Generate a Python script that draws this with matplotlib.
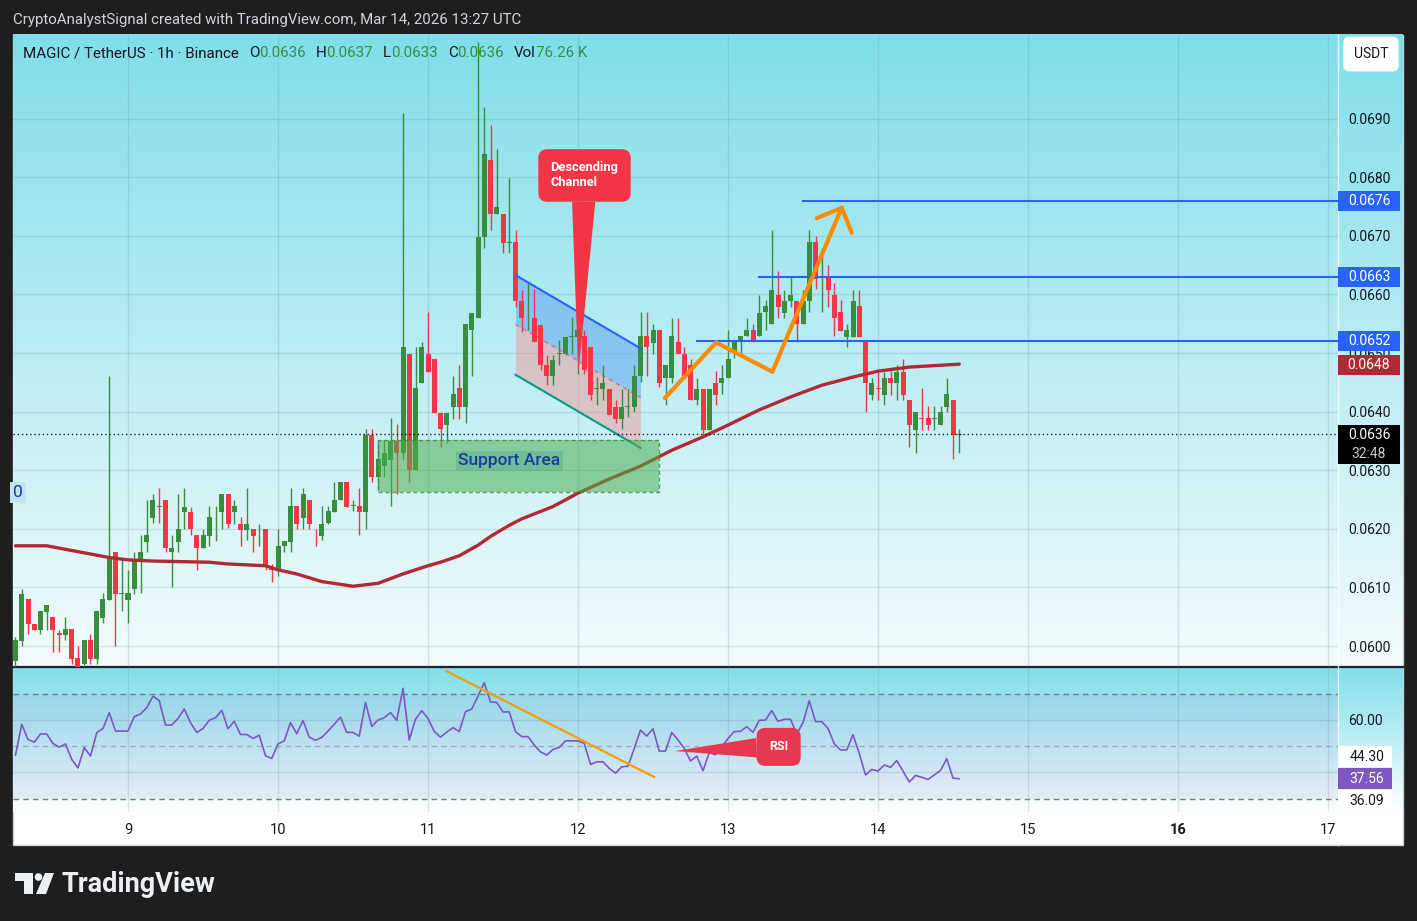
import numpy as np
import matplotlib.pyplot as plt
import matplotlib.colors as mcolors
import matplotlib.transforms as mtransforms
from matplotlib.patches import Rectangle, Polygon, Circle

plt.rcParams['font.family'] = ['Roboto', 'DejaVu Sans']

# ---------------- data (x = hours from Mar 9 00:00 UTC, 1h candles) ----------------
hours = list(range(-18, 134))

opens = [0.05975, 0.06009, 0.06080, 0.06038, 0.06027, 0.06058, 0.06050, 0.06022,
         0.06018, 0.06029, 0.05979, 0.05970, 0.06010, 0.05977, 0.06048, 0.06078,
         0.06161, 0.06089, 0.06078, 0.06098, 0.06148, 0.06178, 0.06219, 0.06239,
         0.06249, 0.06160, 0.06178, 0.06229, 0.06229, 0.06189, 0.06167, 0.06188,
         0.06230, 0.06229, 0.06259, 0.06229, 0.06209, 0.06198, 0.06200, 0.06199,
         0.06199, 0.06131, 0.06129, 0.06170, 0.06178, 0.06239, 0.06219, 0.06249,
         0.06200, 0.06188, 0.06210, 0.06229, 0.06249, 0.06280, 0.06239, 0.06239,
         0.06229, 0.06360, 0.06289, 0.06307, 0.06317, 0.06350, 0.06329, 0.06499,
         0.06300, 0.06449, 0.06499, 0.06489, 0.06398, 0.06377, 0.06408, 0.06440,
         0.06408, 0.06539, 0.06559, 0.06698, 0.06829, 0.06738, 0.06738, 0.06688,
         0.06690, 0.06588, 0.06559, 0.06559, 0.06548, 0.06480, 0.06460, 0.06499,
         0.06499, 0.06528, 0.06528, 0.06529, 0.06511, 0.06439, 0.06439, 0.06439,
         0.06408, 0.06387, 0.06408, 0.06408, 0.06460, 0.06529, 0.06517, 0.06539,
         0.06458, 0.06458, 0.06519, 0.06499, 0.06479, 0.06419, 0.06439, 0.06368,
         0.06449, 0.06449, 0.06458, 0.06500, 0.06519, 0.06529, 0.06539, 0.06529,
         0.06570, 0.06549, 0.06599, 0.06569, 0.06588, 0.06588, 0.06549, 0.06588,
         0.06690, 0.06629, 0.06629, 0.06599, 0.06570, 0.06528, 0.06528, 0.06580,
         0.06519, 0.06428, 0.06440, 0.06428, 0.06458, 0.06448, 0.06468, 0.06420,
         0.06368, 0.06389, 0.06389, 0.06388, 0.06377, 0.06408, 0.06420, 0.06360]

highs = [0.06015, 0.06098, 0.06080, 0.06038, 0.06060, 0.06070, 0.06050, 0.06028,
         0.06050, 0.06029, 0.06000, 0.06010, 0.06020, 0.06060, 0.06090, 0.06461,
         0.06161, 0.06149, 0.06130, 0.06160, 0.06189, 0.06249, 0.06259, 0.06269,
         0.06249, 0.06189, 0.06259, 0.06269, 0.06238, 0.06190, 0.06199, 0.06239,
         0.06239, 0.06259, 0.06259, 0.06249, 0.06220, 0.06269, 0.06200, 0.06209,
         0.06199, 0.06140, 0.06199, 0.06179, 0.06269, 0.06239, 0.06269, 0.06249,
         0.06200, 0.06239, 0.06239, 0.06280, 0.06280, 0.06280, 0.06249, 0.06269,
         0.06370, 0.06370, 0.06351, 0.06351, 0.06389, 0.06379, 0.06910, 0.06499,
         0.06511, 0.06519, 0.06570, 0.06489, 0.06398, 0.06398, 0.06460, 0.06479,
         0.06549, 0.06569, 0.07030, 0.06920, 0.06889, 0.06849, 0.06738, 0.06798,
         0.06710, 0.06607, 0.06619, 0.06610, 0.06548, 0.06496, 0.06496, 0.06522,
         0.06528, 0.06562, 0.06599, 0.06539, 0.06511, 0.06459, 0.06479, 0.06439,
         0.06420, 0.06439, 0.06439, 0.06480, 0.06570, 0.06570, 0.06550, 0.06539,
         0.06479, 0.06560, 0.06560, 0.06510, 0.06489, 0.06458, 0.06439, 0.06439,
         0.06469, 0.06479, 0.06539, 0.06519, 0.06529, 0.06560, 0.06549, 0.06599,
         0.06590, 0.06710, 0.06640, 0.06608, 0.06629, 0.06588, 0.06608, 0.06710,
         0.06700, 0.06679, 0.06650, 0.06619, 0.06590, 0.06549, 0.06608, 0.06608,
         0.06519, 0.06458, 0.06468, 0.06468, 0.06469, 0.06479, 0.06489, 0.06420,
         0.06400, 0.06440, 0.06410, 0.06410, 0.06410, 0.06458, 0.06420, 0.06370]

lows = [0.05965, 0.06000, 0.06020, 0.06027, 0.06020, 0.06028, 0.05990, 0.05990,
        0.06010, 0.05970, 0.05965, 0.05965, 0.05970, 0.05970, 0.06040, 0.06078,
        0.06000, 0.06060, 0.06040, 0.06088, 0.06091, 0.06161, 0.06210, 0.06210,
        0.06161, 0.06100, 0.06160, 0.06199, 0.06189, 0.06130, 0.06167, 0.06170,
        0.06180, 0.06200, 0.06201, 0.06209, 0.06170, 0.06181, 0.06161, 0.06170,
        0.06130, 0.06110, 0.06120, 0.06161, 0.06161, 0.06200, 0.06200, 0.06200,
        0.06170, 0.06181, 0.06209, 0.06229, 0.06249, 0.06238, 0.06230, 0.06189,
        0.06200, 0.06280, 0.06269, 0.06289, 0.06239, 0.06260, 0.06320, 0.06280,
        0.06300, 0.06449, 0.06468, 0.06398, 0.06340, 0.06346, 0.06388, 0.06388,
        0.06380, 0.06460, 0.06559, 0.06680, 0.06710, 0.06738, 0.06670, 0.06670,
        0.06579, 0.06536, 0.06539, 0.06519, 0.06471, 0.06445, 0.06445, 0.06480,
        0.06496, 0.06499, 0.06465, 0.06465, 0.06419, 0.06411, 0.06419, 0.06394,
        0.06380, 0.06371, 0.06390, 0.06400, 0.06450, 0.06460, 0.06499, 0.06442,
        0.06411, 0.06448, 0.06499, 0.06458, 0.06419, 0.06411, 0.06360, 0.06368,
        0.06411, 0.06430, 0.06458, 0.06491, 0.06500, 0.06529, 0.06519, 0.06529,
        0.06539, 0.06549, 0.06559, 0.06559, 0.06579, 0.06519, 0.06549, 0.06570,
        0.06609, 0.06570, 0.06579, 0.06529, 0.06538, 0.06511, 0.06528, 0.06528,
        0.06400, 0.06419, 0.06419, 0.06411, 0.06428, 0.06420, 0.06420, 0.06340,
        0.06330, 0.06368, 0.06368, 0.06368, 0.06377, 0.06400, 0.06320, 0.06330]

closes = [0.06010, 0.06089, 0.06037, 0.06027, 0.06059, 0.06070, 0.06027, 0.06019,
          0.06029, 0.05977, 0.05965, 0.06010, 0.05977, 0.06059, 0.06080, 0.06150,
          0.06088, 0.06090, 0.06090, 0.06149, 0.06161, 0.06189, 0.06249, 0.06238,
          0.06167, 0.06168, 0.06199, 0.06238, 0.06199, 0.06167, 0.06189, 0.06221,
          0.06231, 0.06259, 0.06208, 0.06239, 0.06198, 0.06209, 0.06188, 0.06200,
          0.06137, 0.06129, 0.06170, 0.06179, 0.06239, 0.06208, 0.06259, 0.06208,
          0.06199, 0.06209, 0.06230, 0.06249, 0.06280, 0.06238, 0.06240, 0.06229,
          0.06360, 0.06289, 0.06319, 0.06330, 0.06350, 0.06329, 0.06511, 0.06300,
          0.06440, 0.06510, 0.06468, 0.06398, 0.06370, 0.06398, 0.06430, 0.06408,
          0.06549, 0.06569, 0.06698, 0.06839, 0.06738, 0.06750, 0.06688, 0.06689,
          0.06588, 0.06559, 0.06560, 0.06519, 0.06480, 0.06460, 0.06488, 0.06500,
          0.06528, 0.06529, 0.06539, 0.06471, 0.06428, 0.06440, 0.06448, 0.06394,
          0.06387, 0.06408, 0.06409, 0.06460, 0.06529, 0.06510, 0.06539, 0.06449,
          0.06479, 0.06529, 0.06499, 0.06458, 0.06419, 0.06439, 0.06368, 0.06439,
          0.06428, 0.06458, 0.06490, 0.06519, 0.06529, 0.06540, 0.06519, 0.06569,
          0.06580, 0.06608, 0.06579, 0.06588, 0.06599, 0.06549, 0.06588, 0.06690,
          0.06627, 0.06630, 0.06608, 0.06559, 0.06538, 0.06539, 0.06588, 0.06528,
          0.06449, 0.06449, 0.06439, 0.06458, 0.06448, 0.06468, 0.06428, 0.06377,
          0.06400, 0.06388, 0.06377, 0.06389, 0.06400, 0.06430, 0.06360, 0.06362]

# moving average (read at sample hours)
ma_hours = [-18, -13, -8, -3, 0, 4, 13, 16, 22, 24, 27, 31, 36, 40, 44, 48, 50, 53, 56,
            58, 61, 63, 68, 72, 77, 82, 87, 92, 96, 101, 106, 111, 116, 120, 125, 133]
ma_values = [0.06171, 0.06171, 0.06161, 0.06151, 0.06147, 0.06145, 0.06143, 0.06140,
             0.06137, 0.06130, 0.06123, 0.06110, 0.06102, 0.06107, 0.06123, 0.06137,
             0.06143, 0.06154, 0.06172, 0.06187, 0.06206, 0.06217, 0.06238, 0.06261,
             0.06285, 0.06307, 0.06334, 0.06357, 0.06377, 0.06403, 0.06425, 0.06445,
             0.06459, 0.06469, 0.06476, 0.06481]

rsi_values = [46.6, 58.3, 52.5, 51.5, 54.6, 54.6, 51.0, 49.6,
              50.8, 44.9, 41.7, 49.4, 46.2, 55.1, 56.7, 62.7,
              55.7, 55.7, 55.7, 61.2, 62.2, 64.6, 69.0, 67.3,
              58.0, 58.0, 60.5, 64.1, 58.9, 55.2, 56.7, 59.8,
              60.8, 63.6, 56.6, 59.4, 54.4, 54.4, 52.9, 54.1,
              46.3, 45.3, 50.8, 52.0, 58.9, 54.7, 59.7, 53.4,
              52.2, 53.3, 55.7, 58.3, 61.0, 55.2, 55.2, 53.8,
              66.6, 57.5, 59.9, 60.8, 62.7, 59.8, 72.0, 52.3,
              60.2, 63.5, 60.5, 55.6, 53.4, 55.3, 57.0, 55.5,
              63.1, 64.1, 69.0, 74.1, 66.8, 66.6, 63.0, 63.0,
              55.5, 53.6, 53.6, 50.4, 47.8, 46.6, 48.7, 49.5,
              52.0, 52.0, 52.0, 51.0, 43.0, 44.0, 44.0, 41.5,
              39.7, 42.1, 42.3, 49.1, 56.1, 53.8, 56.6, 48.1,
              48.1, 55.2, 52.3, 49.1, 44.3, 46.2, 40.6, 47.5,
              46.7, 49.6, 52.9, 55.5, 55.6, 57.4, 55.2, 59.8,
              59.9, 63.5, 59.4, 60.2, 60.2, 54.6, 58.9, 67.3,
              59.3, 59.3, 56.7, 50.9, 48.5, 48.5, 54.3, 47.2,
              39.0, 41.1, 40.5, 42.8, 41.9, 44.5, 40.5, 36.3,
              38.8, 38.1, 37.3, 39.0, 40.7, 45.2, 37.8, 37.56]

day_ticks = [0, 24, 48, 72, 96, 120, 144, 168, 192]
day_labels = ['9', '10', '11', '12', '13', '14', '15', '16', '17']
price_ticks = [0.0600, 0.0610, 0.0620, 0.0630, 0.0640, 0.0650, 0.0660, 0.0670, 0.0680, 0.0690]
rsi_ticks = [40, 60]
rsi_tick_labels = ['', '60.00']

levels = [0.0652, 0.0663, 0.0676]
level_start = [91, 101, 108]
rsi_ma_value = 44.30
rsi_low_value = 36.09
countdown = '32:48'

# drawings
channel_x = [62, 82]
channel_upper = [0.06633, 0.06508]
channel_mid = [0.06549, 0.06424]
channel_lower = [0.06463, 0.06338]
support_x = [40, 85]
support_y = [0.06263, 0.06352]
zigzag_x = [85.9, 94.1, 103.1, 114.2]
zigzag_y = [0.06423, 0.06518, 0.06468, 0.06748]
arrow_x = [110.2, 114.2, 115.8]
arrow_y = [0.06730, 0.06748, 0.06705]
rsi_trend_x = [50.9, 84.2]
rsi_trend_y = [78.6, 38.2]

# ---------------- colours ----------------
GREEN = '#388e3c'
RED = '#f23645'
BLUE = '#2962ff'
MA_RED = '#b22833'
TXT = '#131722'
PURPLE = '#7e57c2'

W, H = 1417, 921
fig = plt.figure(figsize=(W / 100, H / 100), dpi=100, facecolor='#1e1e1e')


def fx(px):
    return px / W


def fy(py):
    return 1 - py / H


def vgrad(c0, c1, n=256):
    a = np.array(mcolors.to_rgb(c0))
    b = np.array(mcolors.to_rgb(c1))
    t = np.linspace(0, 1, n)[:, None]
    return (a * (1 - t) + b * t)[:, None, :]


# background layer in pixel coordinates
bg = fig.add_axes([0, 0, 1, 1], zorder=0)
bg.add_patch(Rectangle((13, 35), 1390, 810, fc='white', ec='#c9ccd3', lw=1, zorder=-1))
bg.imshow(vgrad('#80deea', '#f3fbfc'), extent=(13, 1403, 667, 35), aspect='auto',
          interpolation='bilinear', zorder=0)
bg.imshow(vgrad('#80deea', '#fdfeff'), extent=(13, 1403, 812, 667), aspect='auto',
          interpolation='bilinear', zorder=0)
bg.plot([13, 1403], [667, 667], color='#1c2030', lw=1.6)
bg.plot([1338, 1338], [35, 845], color='white', lw=1, alpha=0.8)
# TradingView logo
bg.add_patch(Polygon([(15, 873), (33, 873), (33, 894), (24, 894), (24, 881), (15, 881)],
                     closed=True, fc='#eceff4', ec='none'))
bg.add_patch(Circle((38.5, 877), 3.8, fc='#eceff4', ec='none'))
bg.add_patch(Polygon([(45, 873), (54, 873), (46, 894), (36, 894)], closed=True, fc='#eceff4', ec='none'))
bg.set_xlim(0, W)
bg.set_ylim(H, 0)
bg.axis('off')

fig.text(fx(61), fy(884), 'TradingView', fontsize=19.5, fontweight='bold', color='#eceff4',
         ha='left', va='center')
fig.text(fx(13), fy(20), 'CryptoAnalystSignal created with TradingView.com, Mar 14, 2026 13:27 UTC',
         fontsize=10.8, color='#d1d4dc', ha='left', va='center')

# ---------------- main price pane ----------------
PMIN, PMAX = 0.059642, 0.070427
XMIN, XMAX = -18.4, 193.6
main = fig.add_axes([fx(13), fy(667), fx(1338) - fx(13), fy(35) - fy(667)], zorder=1)
main.set_facecolor('none')
main.set_xlim(XMIN, XMAX)
main.set_ylim(PMIN, PMAX)
for s in main.spines.values():
    s.set_visible(False)
main.set_axisbelow(True)
main.grid(True, color='#5e7f8a', alpha=0.2, lw=1)
main.set_xticks(day_ticks)
main.tick_params(axis='x', length=0, labelbottom=False)
main.yaxis.tick_right()
main.set_yticks(price_ticks)
main.set_yticklabels(['%.4f' % v for v in price_ticks])
main.tick_params(axis='y', length=0, pad=7.5, labelsize=10, labelcolor=TXT)

o = np.array(opens)
c = np.array(closes)
hi = np.array(highs)
lo = np.array(lows)
x = np.array(hours)
cols = np.where(c >= o, GREEN, RED)

# channel fills (behind candles)
main.fill_between(channel_x, channel_mid, channel_upper, color='#5c9ff0', alpha=0.5, lw=0, zorder=2)
main.fill_between(channel_x, channel_lower, channel_mid, color='#ef9a9a', alpha=0.5, lw=0, zorder=2)

main.vlines(x, lo, hi, colors=cols, lw=1, zorder=3)
body_h = np.maximum(np.abs(c - o), 0.000012)
main.bar(x, body_h, bottom=np.minimum(o, c), width=0.8, color=cols, lw=0, zorder=3.5)

main.plot(ma_hours, ma_values, color=MA_RED, lw=2.4, solid_capstyle='round',
          solid_joinstyle='round', zorder=4)

main.plot(channel_x, channel_upper, color=BLUE, lw=1.5, zorder=4.2)
main.plot(channel_x, channel_mid, color=RED, lw=1, ls=(0, (3, 3)), alpha=0.6, zorder=4.2)
main.plot(channel_x, channel_lower, color='#089981', lw=1.5, zorder=4.2)

# support area
main.add_patch(Rectangle((support_x[0], support_y[0]), support_x[1] - support_x[0],
                         support_y[1] - support_y[0], fc='#4caf50', alpha=0.55, ec='none', zorder=5))
main.add_patch(Rectangle((support_x[0], support_y[0]), support_x[1] - support_x[0],
                         support_y[1] - support_y[0], fc='none', ec='#3d8b40', lw=1,
                         ls=(0, (3, 2)), alpha=0.8, zorder=5))
main.text(61, 0.06316, 'Support Area', ha='center', va='center', fontsize=12.5, color='#1a3a9c',
          fontweight='medium', zorder=6,
          bbox=dict(boxstyle='square,pad=0.15', fc='#3c9b8c', alpha=0.3, ec='none'))
main.text(XMIN, 0.06262, '0', ha='left', va='center', fontsize=12.5, color='#1a3a9c', zorder=6,
          bbox=dict(boxstyle='square,pad=0.2', fc='#bfe6ef', ec='none'))

# resistance levels
for lv, st in zip(levels, level_start):
    main.plot([st, XMAX], [lv, lv], color=BLUE, lw=1.5, zorder=5)

# orange projection
main.plot(zigzag_x, zigzag_y, color='#fb8c00', lw=3, solid_capstyle='round',
          solid_joinstyle='round', zorder=5.5)
main.plot(arrow_x, arrow_y, color='#fb8c00', lw=3, solid_capstyle='round',
          solid_joinstyle='round', zorder=5.5)

# last price dotted line
main.axhline(closes[-1], color=TXT, lw=1, ls=(0, (1, 2)), zorder=5)

# descending channel callout
main.annotate('Descending\nChannel', xy=(72.05, 0.06465), xytext=(73.04, 0.06803),
              ha='center', va='center', ma='left', color='white', fontsize=9.3, fontweight='bold',
              zorder=8,
              bbox=dict(boxstyle='round,pad=0.95,rounding_size=0.7', fc=RED, ec='none'),
              arrowprops=dict(arrowstyle='wedge,tail_width=1.8,shrink_factor=0.5', fc=RED,
                              ec='none', shrinkA=0, shrinkB=0))

# legend line
t = fig.text(fx(23), fy(53), 'MAGIC / TetherUS · 1h · Binance', fontsize=10.9, color=TXT,
             ha='left', va='center')
legend_parts = [('O', TXT, 10), ('%.4f' % opens[-1], GREEN, 0), ('H', TXT, 10),
                ('%.4f' % highs[-1], GREEN, 0), ('L', TXT, 10), ('%.4f' % lows[-1], GREEN, 0),
                ('C', TXT, 10), ('%.4f' % closes[-1], GREEN, 0), ('Vol', TXT, 10), ('76.26 K', GREEN, 0)]
for s, col, gap in legend_parts:
    t = main.annotate(s, xy=(1, 0.5), xycoords=t, xytext=(gap, 0), textcoords='offset pixels',
                      ha='left', va='center', fontsize=10.9, color=col, annotation_clip=False)

# price scale tags
blend_main = mtransforms.blended_transform_factory(fig.transFigure, main.transData)
ppx = (PMAX - PMIN) / 632.0


def price_tag(val, fc, tc):
    main.add_patch(Rectangle((fx(1338), val - 10 * ppx), fx(1400) - fx(1338), 20 * ppx,
                             transform=blend_main, fc=fc, ec='none', clip_on=False, zorder=7))
    main.text(fx(1369), val, '%.4f' % val, transform=blend_main, ha='center', va='center',
              color=tc, fontsize=10, clip_on=False, zorder=8)


for lv in levels:
    price_tag(lv, BLUE, 'white')
price_tag(round(ma_values[-1], 4), MA_RED, 'white')
lp = round(closes[-1], 4)
main.add_patch(Rectangle((fx(1338), lp - 29 * ppx), fx(1400) - fx(1338), 39 * ppx,
                         transform=blend_main, fc='black', ec='none', clip_on=False, zorder=7))
main.text(fx(1369), lp, '%.4f' % lp, transform=blend_main, ha='center', va='center',
          color='white', fontsize=10, clip_on=False, zorder=8)
main.text(fx(1369), lp - 19 * ppx, countdown, transform=blend_main, ha='center', va='center',
          color='#c8cad0', fontsize=10, clip_on=False, zorder=8)

fig.text(fx(1371), fy(54), 'USDT', ha='center', va='center', fontsize=10, color=TXT,
         bbox=dict(boxstyle='round,pad=0.75,rounding_size=0.45', fc='white', ec='none'))

# ---------------- RSI pane ----------------
RMIN, RMAX = 24.9, 80.1
rsi = fig.add_axes([fx(13), fy(812), fx(1338) - fx(13), fy(667) - fy(812)], zorder=1)
rsi.set_facecolor('none')
rsi.set_xlim(XMIN, XMAX)
rsi.set_ylim(RMIN, RMAX)
for s in rsi.spines.values():
    s.set_visible(False)
rsi.set_axisbelow(True)
rsi.axhspan(30, 70, color=PURPLE, alpha=0.09, lw=0, zorder=0.2)
rsi.grid(True, color='#5e7f8a', alpha=0.2, lw=1)
rsi.axhline(70, color='#787b86', lw=1, ls=(0, (4, 3)), zorder=1)
rsi.axhline(50, color='#787b86', lw=1, ls=(0, (4, 3)), alpha=0.5, zorder=1)
rsi.axhline(30, color='#787b86', lw=1, ls=(0, (4, 3)), zorder=1)
rsi.set_xticks(day_ticks)
rsi.set_xticklabels(day_labels)
rsi.tick_params(axis='x', length=0, pad=8, labelsize=10.5, labelcolor=TXT)
for lab in rsi.get_xticklabels():
    if lab.get_text() == '16':
        lab.set_fontweight('bold')
rsi.yaxis.tick_right()
rsi.set_yticks(rsi_ticks)
rsi.set_yticklabels(rsi_tick_labels)
rsi.tick_params(axis='y', length=0, pad=7.5, labelsize=10, labelcolor=TXT)

rsi.plot(x, rsi_values, color=PURPLE, lw=1.2, zorder=3)
rsi.plot(rsi_trend_x, rsi_trend_y, color='#f59f00', lw=1.6, zorder=4)

rsi.annotate('RSI', xy=(87.5, 48.1), xytext=(104.1, 49.7), ha='center', va='center',
             color='white', fontsize=9, fontweight='bold', zorder=8,
             bbox=dict(boxstyle='round,pad=1.0,rounding_size=0.7', fc='#e8384f', ec='none'),
             arrowprops=dict(arrowstyle='wedge,tail_width=1.55,shrink_factor=0.5', fc='#e8384f',
                             ec='none', shrinkA=0, shrinkB=0))

blend_rsi = mtransforms.blended_transform_factory(fig.transFigure, rsi.transData)
rpx = (RMAX - RMIN) / 145.0
rsi_tags = [(rsi_ma_value, 46.0, 'white', TXT), (rsi_values[-1], rsi_values[-1], PURPLE, 'white'),
            (rsi_low_value, 29.2, 'white', TXT)]
for val, pos, fc, tc in rsi_tags:
    rsi.add_patch(Rectangle((fx(1338), pos - 10.5 * rpx), fx(1392) - fx(1338), 21 * rpx,
                            transform=blend_rsi, fc=fc, ec='none', clip_on=False, zorder=7))
    rsi.text(fx(1367), pos, '%.2f' % val, transform=blend_rsi, ha='center', va='center',
             color=tc, fontsize=10, clip_on=False, zorder=8)

fig.savefig('out.png', dpi=100, facecolor=fig.get_facecolor())
